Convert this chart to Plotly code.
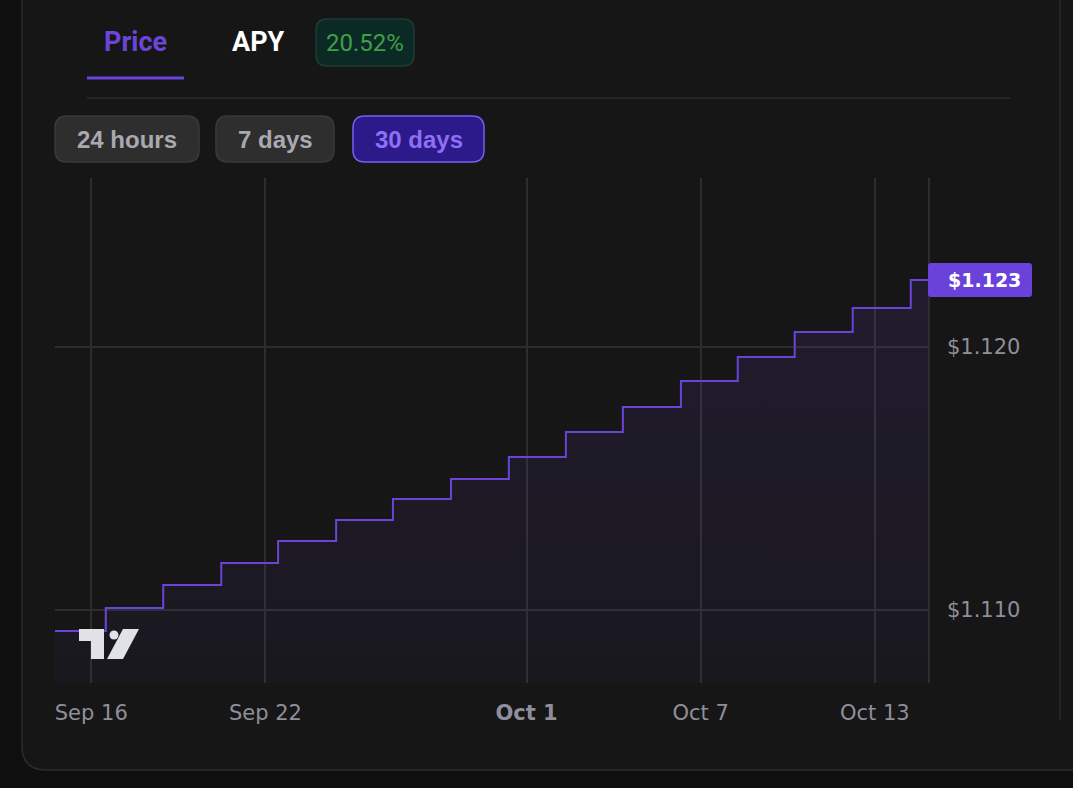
import plotly.graph_objects as go

# ---------------- data ----------------
step_times = [
    "2024-09-14 18:00", "2024-09-16 12:00", "2024-09-18 11:30", "2024-09-20 11:30",
    "2024-09-22 10:30", "2024-09-24 10:30", "2024-09-26 09:30", "2024-09-28 09:30",
    "2024-09-30 09:20", "2024-10-02 08:30", "2024-10-04 07:40", "2024-10-06 07:40",
    "2024-10-08 06:40", "2024-10-10 05:45", "2024-10-12 05:45", "2024-10-14 05:45",
    "2024-10-14 20:00",
]
prices = [
    1.10920, 1.11008, 1.11095, 1.11179, 1.11262, 1.11342, 1.11422, 1.11498,
    1.11582, 1.11677, 1.11772, 1.11871, 1.11962, 1.12057, 1.12148, 1.12255,
    1.12255,
]
x_tick_dates = ["2024-09-16", "2024-09-22", "2024-10-01", "2024-10-07", "2024-10-13"]
x_tick_labels = ["Sep 16", "Sep 22", "<b>Oct 1</b>", "Oct 7", "Oct 13"]
y_tick_vals = [1.110, 1.120]
y_tick_labels = ["$1.110", "$1.120"]
current_label = "$1.123"
apy_text = "20.52%"
tabs = ["Price", "APY"]
ranges = ["24 hours", "7 days", "30 days"]

# ---------------- layout geometry ----------------
W, H = 1073, 788
L, R, T, B = 55, 928, 178, 683
PW, PH = R - L, B - T


def px(x):
    return (x - L) / PW


def py(y):
    return (B - y) / PH


def rrect(x0, y0, x1, y1, r):
    """rounded rectangle path in paper coords from pixel coords"""
    pts = [
        f"M {px(x0 + r)},{py(y0)}",
        f"L {px(x1 - r)},{py(y0)}",
        f"Q {px(x1)},{py(y0)} {px(x1)},{py(y0 + r)}",
        f"L {px(x1)},{py(y1 - r)}",
        f"Q {px(x1)},{py(y1)} {px(x1 - r)},{py(y1)}",
        f"L {px(x0 + r)},{py(y1)}",
        f"Q {px(x0)},{py(y1)} {px(x0)},{py(y1 - r)}",
        f"L {px(x0)},{py(y0 + r)}",
        f"Q {px(x0)},{py(y0)} {px(x0 + r)},{py(y0)}",
        "Z",
    ]
    return " ".join(pts)


def poly(points):
    s = "M " + " L ".join(f"{px(a)},{py(b)}" for a, b in points) + " Z"
    return s


PURPLE = "#6a44d9"
GRID = "#2d2d2f"
AXIS_TXT = "#8f8f9b"

fig = go.Figure()
fig.add_trace(go.Scatter(
    x=step_times, y=prices, mode="lines",
    line=dict(color=PURPLE, width=2, shape="hv"),
    fill="tozeroy",
    fillgradient=dict(
        type="vertical",
        colorscale=[[0, "rgba(106,68,217,0.04)"], [1, "rgba(106,68,217,0.13)"]],
        start=1.1072, stop=1.1226,
    ),
    hoverinfo="skip", showlegend=False,
))

shapes = []
# card background with rounded bottom-left corner
shapes.append(dict(type="path", xref="paper", yref="paper", layer="below",
                   path=rrect(22, -40, 1120, 770, 24),
                   fillcolor="#161616", line=dict(color="#2b2b2c", width=1.5)))
# right inner vertical line
shapes.append(dict(type="line", xref="paper", yref="paper", layer="below",
                   x0=px(1060), x1=px(1060), y0=py(0), y1=py(720),
                   line=dict(color="#2a2a2b", width=1.5)))
# divider under tabs
shapes.append(dict(type="line", xref="paper", yref="paper", layer="below",
                   x0=px(87), x1=px(1010), y0=py(98), y1=py(98),
                   line=dict(color="#2c2c2d", width=1.5)))
# active tab underline
shapes.append(dict(type="line", xref="paper", yref="paper",
                   x0=px(87), x1=px(184), y0=py(78), y1=py(78),
                   line=dict(color=PURPLE, width=3)))
# APY badge
shapes.append(dict(type="path", xref="paper", yref="paper",
                   path=rrect(316, 19, 414, 66, 11),
                   fillcolor="#0c2a25", line=dict(color="#1f3b35", width=1.5)))
# range buttons
btn_boxes = [(55, 116, 199, 162), (216, 116, 334, 162), (353, 116, 484, 162)]
for i, (x0, y0, x1, y1) in enumerate(btn_boxes):
    sel = i == 2
    shapes.append(dict(type="path", xref="paper", yref="paper",
                       path=rrect(x0, y0, x1, y1, 12),
                       fillcolor="#2c1a8a" if sel else "#2e2e2f",
                       line=dict(color="#7b5cf0" if sel else "#3a3a3b", width=1.5)))
# current price label box
shapes.append(dict(type="path", xref="paper", yref="paper",
                   path=rrect(928, 263, 1032, 297, 3),
                   fillcolor="#6a42da", line=dict(width=0)))
# TradingView logo
LOGO = "#e1e1e8"
shapes.append(dict(type="path", xref="paper", yref="paper",
                   path=poly([(79, 629), (104, 629), (104, 659), (91, 659), (91, 641), (79, 641)]),
                   fillcolor=LOGO, line=dict(width=0)))
shapes.append(dict(type="circle", xref="paper", yref="paper",
                   x0=px(109.5), x1=px(118.5), y0=py(630.5), y1=py(639.5),
                   fillcolor=LOGO, line=dict(width=0)))
shapes.append(dict(type="path", xref="paper", yref="paper",
                   path=poly([(123, 629), (139, 629), (123, 659), (107, 659)]),
                   fillcolor=LOGO, line=dict(width=0)))

annotations = []


def ann(text, x, y, size, color, family, xanchor="center"):
    annotations.append(dict(text=text, x=px(x), y=py(y), xref="paper", yref="paper",
                            xanchor=xanchor, yanchor="middle", showarrow=False,
                            font=dict(size=size, color=color, family=family)))


ann("<b>" + tabs[0] + "</b>", 135, 42, 27, "#6a45d8", "Roboto")
ann("<b>" + tabs[1] + "</b>", 258, 42, 27, "#ffffff", "Roboto")
ann(apy_text, 365, 43, 24, "#3fa046", "Roboto")
btn_colors = ["#a9a9b0", "#a9a9b0", "#8e6ff5"]
for (x0, y0, x1, y1), lab, c in zip(btn_boxes, ranges, btn_colors):
    ann("<b>" + lab + "</b>", (x0 + x1) / 2, (y0 + y1) / 2 + 1, 24, c, "Liberation Sans")
ann("<b>" + current_label + "</b>", 946, 280, 19, "#ffffff", "DejaVu Sans", xanchor="left")

fig.update_layout(
    width=W, height=H,
    margin=dict(l=L, r=W - R, t=T, b=H - B, pad=0),
    paper_bgcolor="#0f0f0f",
    plot_bgcolor="rgba(0,0,0,0)",
    shapes=shapes, annotations=annotations,
    showlegend=False,
    xaxis=dict(
        type="date", range=["2024-09-14 18:00", "2024-10-14 20:00"],
        tickvals=x_tick_dates, ticktext=x_tick_labels,
        showgrid=True, gridcolor=GRID, gridwidth=1.5, zeroline=False, showline=False,
        ticks="", ticklabelstandoff=15,
        tickfont=dict(size=21, color=AXIS_TXT, family="DejaVu Sans"),
        fixedrange=True,
    ),
    yaxis=dict(
        side="right", range=[1.107224, 1.126426],
        tickvals=y_tick_vals, ticktext=y_tick_labels,
        showgrid=True, gridcolor=GRID, gridwidth=1.5, zeroline=False,
        showline=True, linecolor=GRID, linewidth=1.5,
        ticks="", ticklabelstandoff=13,
        tickfont=dict(size=21, color=AXIS_TXT, family="DejaVu Sans"),
        fixedrange=True,
    ),
)

fig.write_html(
    "out.html",
    config=dict(displayModeBar=False),
    post_script="document.body.style.margin='0';document.body.style.background='#0f0f0f';",
)
